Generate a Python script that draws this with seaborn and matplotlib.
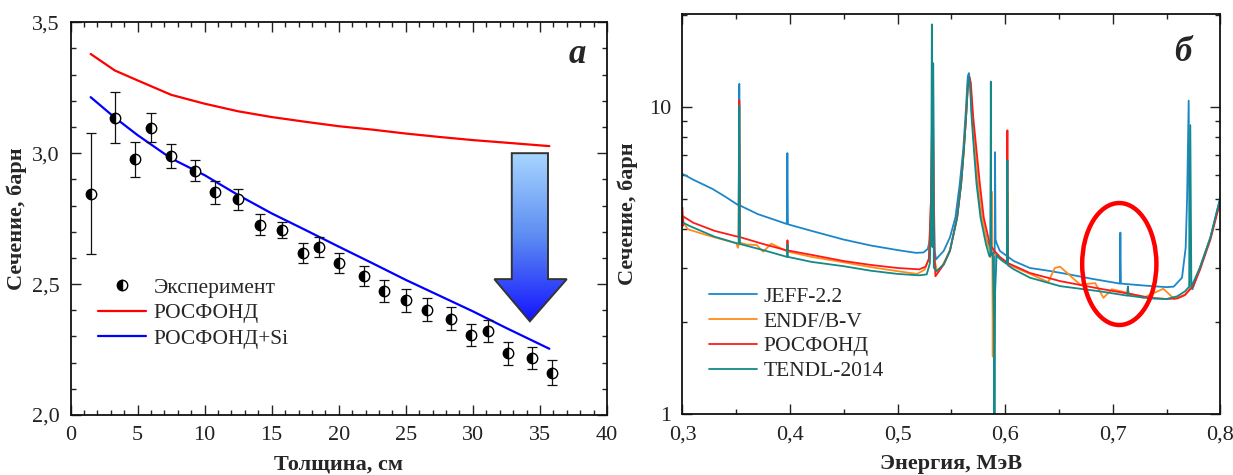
import numpy as np
import matplotlib
matplotlib.use("Agg")
import matplotlib.pyplot as plt
import seaborn as sns
from matplotlib.lines import Line2D
from matplotlib.patches import Polygon, Ellipse
from matplotlib.colors import LinearSegmentedColormap
from matplotlib.ticker import MultipleLocator, FuncFormatter, LogLocator, NullFormatter

# ---- panel a: transmission experiment ----
exp_x = [1.5, 3.3, 4.8, 6.0, 7.5, 9.3, 10.8, 12.5, 14.1, 15.8, 17.35, 18.55, 20.05, 21.85,
         23.35, 25.05, 26.55, 28.35, 29.85, 31.1, 32.6, 34.4, 35.9]
exp_y = [2.846, 3.135, 2.976, 3.098, 2.989, 2.933, 2.851, 2.824, 2.726, 2.707, 2.62, 2.643,
         2.58, 2.532, 2.475, 2.438, 2.402, 2.368, 2.305, 2.32, 2.235, 2.218, 2.161]
exp_err = [0.23, 0.097, 0.067, 0.057, 0.045, 0.04, 0.044, 0.041, 0.04, 0.032, 0.038, 0.038,
           0.038, 0.038, 0.042, 0.043, 0.043, 0.043, 0.043, 0.043, 0.043, 0.043, 0.048]

calc_x = [1.5, 3.3, 5.0, 7.5, 10.0, 12.5, 15.0, 17.5, 20.0, 22.5, 25.0, 27.5, 30.0, 32.5, 35.7]
rosfond = [3.379, 3.316, 3.278, 3.223, 3.189, 3.160, 3.138, 3.120, 3.103, 3.090, 3.075,
           3.062, 3.050, 3.040, 3.027]
rosfond_si = [3.214, 3.136, 3.069, 2.980, 2.916, 2.840, 2.770, 2.707, 2.643, 2.580, 2.516,
              2.456, 2.396, 2.332, 2.253]

# ---- panel b: evaluated cross sections ----
jeff_e = [0.300, 0.310, 0.328, 0.340, 0.3515, 0.3522, 0.3528, 0.3534, 0.370, 0.385, 0.3970,
          0.3975, 0.3980, 0.420, 0.450, 0.475, 0.500, 0.517, 0.524, 0.528, 0.530, 0.5315,
          0.5322, 0.5330, 0.5337, 0.5345, 0.5356, 0.5428, 0.5486, 0.5537, 0.5577, 0.5609,
          0.5630, 0.5652, 0.5662, 0.5675, 0.5690, 0.5712, 0.5738, 0.5775, 0.5828, 0.5860,
          0.5863, 0.5867, 0.5870, 0.5890, 0.5897, 0.5902, 0.5905, 0.5910, 0.592, 0.595,
          0.608, 0.623, 0.640, 0.657, 0.680, 0.7065, 0.7070, 0.7075, 0.730, 0.750, 0.7566,
          0.7643, 0.7677, 0.7690, 0.7705, 0.7715, 0.774, 0.781, 0.7907, 0.800]
jeff_s = [6.06, 5.80, 5.41, 5.10, 4.80, 4.79, 11.9, 4.78, 4.48, 4.30, 4.16,
          7.08, 4.15, 3.95, 3.70, 3.54, 3.42, 3.35, 3.36, 3.45, 3.70, 5.0,
          8.0, 13.8, 5.0, 3.4, 3.19, 3.40, 3.76, 4.37, 5.62, 7.23,
          9.3, 12.6, 12.9, 12.0, 9.5, 7.4, 5.8, 4.5, 3.70, 3.50,
          3.48, 7.0, 3.45, 3.35, 0.90, 3.3, 7.13, 3.7, 3.60, 3.40,
          3.15, 2.99, 2.93, 2.86, 2.76, 2.66, 3.90, 2.66, 2.62, 2.59, 2.60,
          2.78, 3.48, 5.0, 10.5, 2.60, 2.55, 3.0, 3.76, 5.06]

endf_e = [0.300, 0.302, 0.305, 0.320, 0.340, 0.350, 0.3515, 0.353, 0.359, 0.369, 0.375,
          0.3826, 0.3934, 0.398, 0.420, 0.450, 0.475, 0.500, 0.518, 0.525, 0.529, 0.531,
          0.5325, 0.534, 0.537, 0.5428, 0.5486, 0.5553, 0.5590, 0.5615, 0.5636, 0.5652,
          0.5668, 0.5680, 0.5696, 0.5720, 0.5750, 0.5785, 0.5835, 0.5870, 0.5875, 0.5880,
          0.5884, 0.5888, 0.590, 0.595, 0.6015, 0.6020, 0.6025, 0.6045, 0.623, 0.640, 0.646,
          0.651, 0.6696, 0.6836, 0.6913, 0.699, 0.710, 0.7283, 0.747, 0.757, 0.767, 0.775,
          0.781, 0.7907, 0.800]
endf_s = [4.31, 4.15, 4.00, 3.85, 3.68, 3.60, 3.48, 3.62, 3.57, 3.55, 3.38,
          3.59, 3.44, 3.38, 3.25, 3.12, 3.01, 2.92, 2.86, 2.95, 3.2, 5.0,
          12.0, 3.2, 2.88, 3.10, 3.42, 4.37, 5.62, 7.23, 9.3, 11.5,
          12.0, 11.5, 9.3, 7.23, 5.62, 4.37, 3.55, 3.35, 5.3, 3.35,
          1.54, 3.3, 3.30, 3.22, 3.10, 5.27, 3.08, 3.05, 2.86, 2.69, 2.99,
          3.02, 2.64, 2.67, 2.39, 2.55, 2.50, 2.39, 2.56, 2.37, 2.45, 2.65,
          3.0, 3.75, 5.0]

ros_e = [0.3000, 0.3004, 0.3008, 0.310, 0.330, 0.3515, 0.3522, 0.3528, 0.3534, 0.375,
         0.3972, 0.3976, 0.3980, 0.420, 0.450, 0.475, 0.500, 0.520, 0.526, 0.529, 0.531,
         0.5325, 0.534, 0.5351, 0.5428, 0.5486, 0.5553, 0.5590, 0.5615, 0.5636, 0.5652,
         0.5668, 0.5680, 0.5702, 0.5733, 0.5764, 0.5800, 0.5857, 0.590, 0.595, 0.6015,
         0.6020, 0.6025, 0.6045, 0.623, 0.651, 0.688, 0.7135, 0.7140, 0.7145, 0.735, 0.750,
         0.760, 0.767, 0.775, 0.781, 0.7907, 0.800]
ros_s = [4.70, 4.10, 4.40, 4.20, 3.95, 3.78, 3.78, 10.5, 3.77, 3.58,
         3.41, 3.68, 3.41, 3.30, 3.15, 3.06, 2.99, 2.96, 3.02, 3.2, 5.0,
         12.5, 3.5, 2.81, 3.07, 3.40, 4.37, 5.62, 7.23, 9.3, 11.6,
         12.5, 12.0, 9.3, 7.23, 5.62, 4.37, 3.57, 3.40, 3.25, 3.12,
         8.4, 3.10, 3.08, 2.88, 2.71, 2.56, 2.47, 2.60, 2.47, 2.39, 2.37,
         2.38, 2.44, 2.62, 2.95, 3.70, 4.95]

tendl_e = [0.300, 0.3065, 0.330, 0.3515, 0.3522, 0.3528, 0.3534, 0.375, 0.3972, 0.3976,
           0.3980, 0.420, 0.450, 0.475, 0.500, 0.520, 0.527, 0.530, 0.5312, 0.5318, 0.5324,
           0.5330, 0.5336, 0.536, 0.5428, 0.5486, 0.5553, 0.5590, 0.5615, 0.5636, 0.5652,
           0.5665, 0.5672, 0.5687, 0.5709, 0.5733, 0.5770, 0.5821, 0.5852, 0.5862, 0.5866,
           0.5870, 0.5885, 0.5895, 0.5900, 0.5906, 0.592, 0.595, 0.6015, 0.6020, 0.6025,
           0.608, 0.623, 0.651, 0.688, 0.7135, 0.7140, 0.7145, 0.735, 0.750, 0.760, 0.767,
           0.7710, 0.7720, 0.7730, 0.781, 0.7907, 0.800]
tendl_s = [4.21, 4.10, 3.78, 3.59, 3.59, 10.1, 3.58, 3.42, 3.25, 3.56,
           3.25, 3.13, 3.03, 2.93, 2.86, 2.83, 2.85, 3.1, 5.0, 18.6, 3.5,
           13.9, 3.0, 2.92, 3.07, 3.40, 4.37, 5.62, 7.23, 9.3, 11.9,
           12.4, 11.9, 9.3, 7.23, 5.62, 4.37, 3.57, 3.27, 3.25, 12.1,
           3.30, 3.35, 2.0, 0.90, 2.5, 3.30, 3.20, 3.08, 6.70, 3.05,
           2.96, 2.78, 2.61, 2.51, 2.43, 2.60, 2.43, 2.38, 2.37, 2.42, 2.51,
           2.60, 8.73, 2.60, 3.0, 3.76, 5.10]

lib_names = ["JEFF-2.2", "ENDF/B-V", "РОСФОНД", "TENDL-2014"]
lib_colors = ["#1b87c9", "#ff8c1a", "#ff1a1a", "#138a87"]

sns.set_style("ticks")
plt.rcParams["font.family"] = ["Liberation Serif", "DejaVu Serif"]

fig = plt.figure(figsize=(12.33, 4.75), dpi=100)
ax1 = fig.add_axes([0.0572, 0.1263, 0.4351, 0.8268])
ax2 = fig.add_axes([0.5535, 0.1284, 0.4363, 0.8421])

comma = FuncFormatter(lambda v, p: f"{v:.1f}".replace(".", ","))

# panel a
sns.lineplot(x=calc_x, y=rosfond, ax=ax1, color="#ff0000", lw=1.6, sort=False, estimator=None)
sns.lineplot(x=calc_x, y=rosfond_si, ax=ax1, color="#0000ff", lw=1.6, sort=False, estimator=None)
ax1.errorbar(exp_x, exp_y, yerr=exp_err, fmt="none", ecolor="#111111", elinewidth=0.9,
             capsize=3.5, capthick=0.9, zorder=3)
ax1.plot(exp_x, exp_y, "o", ms=7.5, fillstyle="left", mfc="black", mfcalt="white",
         mec="black", mew=1.0, zorder=4)

# gradient arrow
arrow_pts = [(32.9, 3.0), (35.6, 3.0), (35.6, 2.519), (37.0, 2.519), (34.25, 2.358),
             (31.6, 2.519), (32.9, 2.519)]
poly = Polygon(arrow_pts, closed=True, fc="none", ec="#333333", lw=1.4, zorder=6)
ax1.add_patch(poly)
cmap = LinearSegmentedColormap.from_list("arr", ["#a8d6ff", "#5c8cf2", "#1414ff"])
grad = np.linspace(0, 1, 256).reshape(-1, 1)
im = ax1.imshow(grad, extent=[31.6, 37.0, 2.358, 3.0], origin="upper", cmap=cmap,
                aspect="auto", zorder=5)
im.set_clip_path(poly)

ax1.set_xlim(0, 40)
ax1.set_ylim(2.0, 3.5)
ax1.xaxis.set_major_locator(MultipleLocator(5))
ax1.xaxis.set_minor_locator(MultipleLocator(1))
ax1.yaxis.set_major_locator(MultipleLocator(0.5))
ax1.yaxis.set_minor_locator(MultipleLocator(0.1))
ax1.yaxis.set_major_formatter(comma)
ax1.set_xlabel("Толщина, см", fontsize=16, fontweight="bold", labelpad=7)
ax1.set_ylabel("Сечение, барн", fontsize=16, fontweight="bold", labelpad=3)
ax1.text(0.944, 0.917, "а", transform=ax1.transAxes, fontsize=25, fontweight="bold",
         style="italic", ha="center", va="center")

h1 = [Line2D([], [], ls="none", marker="o", ms=7.5, fillstyle="left", mfc="black",
             mfcalt="white", mec="black", mew=1.0),
      Line2D([], [], color="#ff0000", lw=1.6),
      Line2D([], [], color="#0000ff", lw=1.6)]
ax1.legend(h1, ["Эксперимент", "РОСФОНД", "РОСФОНД+Si"], loc="upper left",
           bbox_to_anchor=(0.052, 0.35), frameon=False, fontsize=15.5, handlelength=2.2,
           handletextpad=0.35, labelspacing=0.25, borderpad=0, borderaxespad=0)

# panel b
for e, s, name, col in zip([jeff_e, endf_e, ros_e, tendl_e], [jeff_s, endf_s, ros_s, tendl_s],
                           lib_names, lib_colors):
    sns.lineplot(x=e, y=s, ax=ax2, color=col, lw=1.3, sort=False, estimator=None, label=name)

ax2.add_patch(Ellipse((0.812, 0.375), 0.138, 0.305, transform=ax2.transAxes, fill=False,
                      ec="#ff0000", lw=3.2, zorder=7))
ax2.set_yscale("log")
ax2.set_xlim(0.3, 0.8)
ax2.set_ylim(1, 20.1)
ax2.xaxis.set_major_locator(MultipleLocator(0.1))
ax2.xaxis.set_minor_locator(MultipleLocator(0.05))
ax2.xaxis.set_major_formatter(comma)
ax2.yaxis.set_major_locator(LogLocator(base=10))
ax2.yaxis.set_minor_locator(LogLocator(base=10, subs=np.arange(2, 10)))
ax2.yaxis.set_major_formatter(FuncFormatter(lambda v, p: f"{v:g}"))
ax2.yaxis.set_minor_formatter(NullFormatter())
ax2.set_xlabel("Энергия, МэВ", fontsize=16, fontweight="bold", labelpad=7)
ax2.set_ylabel("Сечение, барн", fontsize=16, fontweight="bold", labelpad=8)
ax2.text(0.930, 0.905, "б", transform=ax2.transAxes, fontsize=25, fontweight="bold",
         style="italic", ha="center", va="center")
ax2.legend(loc="upper left", bbox_to_anchor=(0.05, 0.318), frameon=False, fontsize=15.5,
           handlelength=2.2, handletextpad=0.3, labelspacing=0.22, borderpad=0,
           borderaxespad=0)

for ax in (ax1, ax2):
    ax.tick_params(which="both", direction="in", top=True, right=True, labelsize=16,
                   width=1.0, colors="#222222")
    ax.tick_params(which="major", length=7, pad=8)
    ax.tick_params(which="minor", length=3.5)
    for sp in ax.spines.values():
        sp.set_linewidth(1.3)
        sp.set_color("#111111")
        sp.set_visible(True)

fig.savefig("out.png", dpi=100)
